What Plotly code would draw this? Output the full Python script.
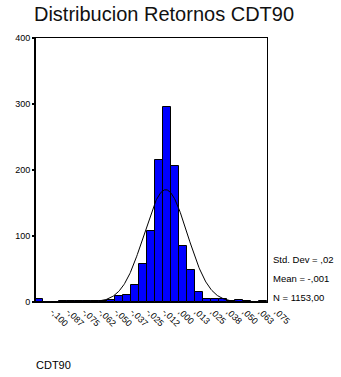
import numpy as np
import plotly.graph_objects as go

# ---- data ----
bin_width = 0.00625
bin_centers = [round(-0.1 + i * bin_width, 5) for i in range(29)]
counts = [4, 0, 0, 1, 1, 1, 1, 1, 1, 3, 9, 11, 26, 58, 108, 215, 296,
          206, 85, 49, 15, 5, 4, 4, 2, 3, 2, 0, 1]
tick_values = [-0.1, -0.0875, -0.075, -0.0625, -0.05, -0.0375, -0.025, -0.0125,
               0.0, 0.0125, 0.025, 0.0375, 0.05, 0.0625, 0.075]
tick_labels = ["-,100", "-,087", "-,075", "-,062", "-,050", "-,037", "-,025", "-,012",
               ",000", ",013", ",025", ",038", ",050", ",063", ",075"]
y_ticks = [0, 100, 200, 300, 400]
n_obs = 1153
mean_val = -0.001
sd_curve = 0.0169
stats_text = ["Std. Dev = ,02", "Mean = -,001", "N = 1153,00"]

# normal fit curve
xc = np.linspace(-0.103125, 0.078125, 400)
yc = n_obs * bin_width / (sd_curve * np.sqrt(2 * np.pi)) * np.exp(-0.5 * ((xc - mean_val) / sd_curve) ** 2)

FONT = "Liberation Sans, Arial, sans-serif"

fig = go.Figure()
fig.add_trace(go.Bar(x=bin_centers, y=counts, width=bin_width,
                     marker=dict(color="#0000FF", line=dict(color="black", width=1)),
                     showlegend=False, hoverinfo="skip"))
fig.add_trace(go.Scatter(x=xc, y=yc, mode="lines", line=dict(color="black", width=1),
                         showlegend=False, hoverinfo="skip"))

fig.update_layout(
    width=341, height=377,
    margin=dict(l=35, r=74, t=38, b=75),
    paper_bgcolor="white", plot_bgcolor="white",
    bargap=0,
    font=dict(family=FONT, color="black", size=9),
    title=dict(text="Distribucion Retornos CDT90", x=164 / 341, xanchor="center",
               y=1 - 14 / 377, yanchor="middle",
               font=dict(family=FONT, size=20, color="#111")),
    xaxis=dict(range=[-0.103125, 0.078125], tickmode="array", tickvals=tick_values,
               ticktext=tick_labels, tickangle=45, showgrid=False, zeroline=False,
               showline=True, linecolor="black", linewidth=1, mirror=True,
               ticks="", tickfont=dict(size=9), ticklabelshift=14, automargin=False),
    yaxis=dict(range=[0, 400], tickmode="array", tickvals=y_ticks,
               showgrid=False, zeroline=False, showline=True, linecolor="black",
               linewidth=1, mirror=True, ticks="outside", ticklen=2, tickwidth=2,
               tickcolor="black", tickfont=dict(size=9), automargin=False),
    shapes=[dict(type="line", xref="paper", yref="paper", x0=0, x1=0, y0=0, y1=1,
                 line=dict(color="black", width=2))],
)

for i, t in enumerate(stats_text):
    fig.add_annotation(text=t, xref="paper", yref="paper", x=1, xanchor="left", xshift=4,
                       y=0, yanchor="middle", yshift=43 - 19 * i, showarrow=False,
                       font=dict(size=9.5, family=FONT))

fig.add_annotation(text="CDT90", xref="paper", yref="paper", x=0, xanchor="left", xshift=-1,
                   y=0, yanchor="middle", yshift=-63, showarrow=False,
                   font=dict(size=11, family=FONT))

fig.write_html("out.html", config={"displayModeBar": False},
               post_script="document.body.style.margin='0';")
